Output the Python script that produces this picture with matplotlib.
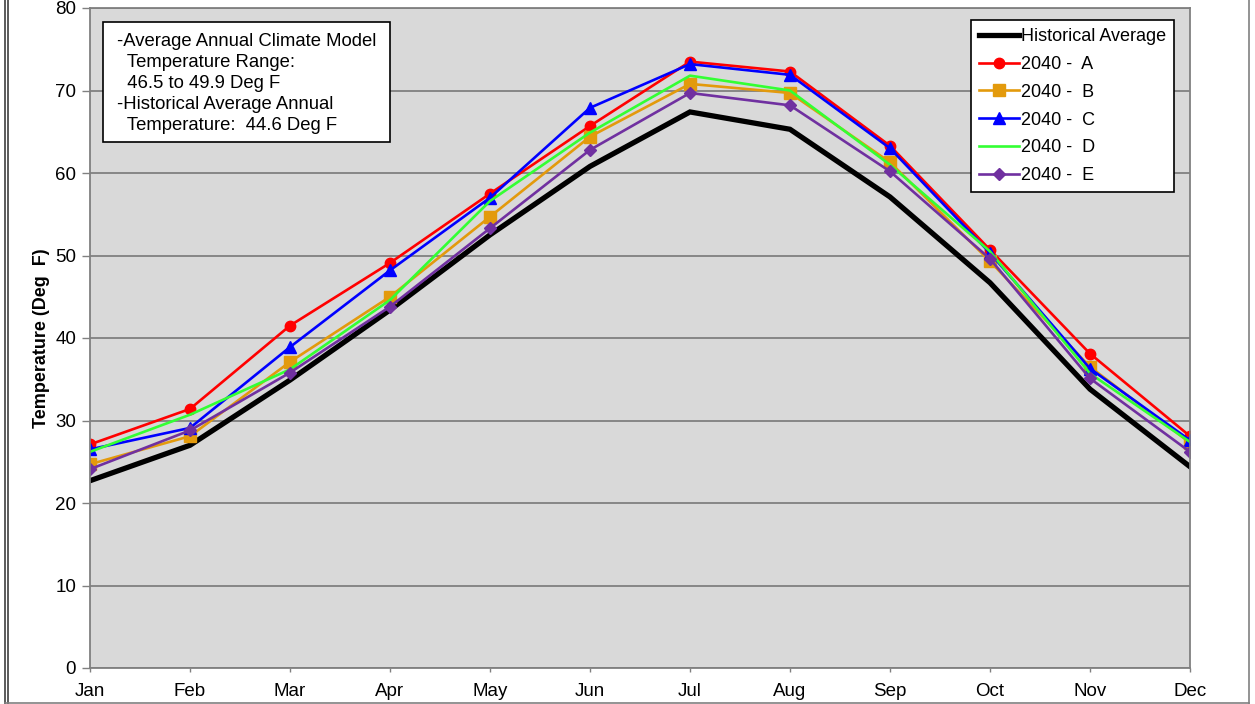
import matplotlib
matplotlib.use('Agg')
import matplotlib.pyplot as plt
from matplotlib.lines import Line2D
from matplotlib.patches import Rectangle

plt.rcParams['font.family'] = ['Liberation Sans', 'DejaVu Sans']

# monthly mean temperatures (deg F)
months = ['Jan', 'Feb', 'Mar', 'Apr', 'May', 'Jun', 'Jul', 'Aug', 'Sep', 'Oct', 'Nov', 'Dec']
historical = [22.7, 27.0, 34.9, 43.4, 52.5, 60.8, 67.4, 65.3, 57.1, 46.7, 33.8, 24.4]
a_2040 = [27.1, 31.4, 41.5, 49.1, 57.5, 65.7, 73.5, 72.3, 63.3, 50.7, 38.1, 28.1]
b_2040 = [24.7, 28.1, 37.1, 45.0, 54.7, 64.4, 70.8, 69.7, 61.3, 49.3, 36.5, 27.3]
c_2040 = [26.5, 29.1, 38.9, 48.2, 57.0, 67.9, 73.2, 71.9, 63.0, 50.3, 36.3, 27.6]
d_2040 = [26.2, 30.7, 36.2, 44.6, 56.6, 64.9, 71.8, 70.0, 61.0, 50.5, 35.7, 27.4]
e_2040 = [24.1, 28.8, 35.8, 43.8, 53.3, 62.8, 69.7, 68.2, 60.2, 49.6, 35.1, 26.2]

x = list(range(len(months)))

fig = plt.figure(figsize=(12.55, 7.04), dpi=100)
ax = fig.add_axes([90 / 1255, 1 - 668 / 704, 1100 / 1255, 660 / 704])
ax.set_facecolor('#d9d9d9')

ax.plot(x, historical, color='black', lw=3.8, label='Historical Average', solid_joinstyle='miter')
ax.plot(x, a_2040, color='#ff0000', lw=1.9, marker='o', ms=7.5, label='2040 -  A')
ax.plot(x, b_2040, color='#e39a0c', lw=1.9, marker='s', ms=8, label='2040 -  B')
ax.plot(x, c_2040, color='#0000ff', lw=1.9, marker='^', ms=8.5, label='2040 -  C')
ax.plot(x, d_2040, color='#33ff33', lw=1.9, label='2040 -  D')
ax.plot(x, e_2040, color='#7030a0', lw=1.9, marker='D', ms=6, label='2040 -  E')

ax.set_xlim(0, 11)
ax.set_ylim(0, 80)
ax.set_xticks(x)
ax.set_xticklabels(months)
ax.set_yticks(range(0, 81, 10))
ax.tick_params(axis='y', length=6, width=1, color='#808080', labelsize=13.5, pad=4)
ax.tick_params(axis='x', length=3, width=1, color='#808080', labelsize=13.5, pad=8)
ax.yaxis.grid(True, color='#808080', lw=1.3)
ax.set_axisbelow(True)
for s in ax.spines.values():
    s.set_color('#808080')
    s.set_linewidth(1.3)

ax.set_ylabel('Temperature (Deg  F)', fontsize=13, fontweight='bold', labelpad=4)

leg = ax.legend(loc='upper left', bbox_to_anchor=(0.801, 0.982), fontsize=13,
                frameon=True, fancybox=False, framealpha=1, edgecolor='black',
                handlelength=2.2, handletextpad=0.1, labelspacing=0.6,
                borderpad=0.45, borderaxespad=0)
leg.get_frame().set_linewidth(1.2)

# note box
ax.add_patch(Rectangle((0.0118, 0.797), 0.261, 0.182, transform=ax.transAxes,
                       facecolor='white', edgecolor='black', lw=1.2, zorder=5))
note = ('-Average Annual Climate Model\n'
        '  Temperature Range:\n'
        '  46.5 to 49.9 Deg F\n'
        '-Historical Average Annual\n'
        '  Temperature:  44.6 Deg F')
ax.text(0.0245, 0.962, note, transform=ax.transAxes, fontsize=13.3, va='top',
        ha='left', linespacing=1.3, zorder=6)

# outer chart frame
fig.add_artist(Line2D([5 / 1255, 5 / 1255], [0, 1], color='#404040', lw=1.2))
fig.add_artist(Line2D([8 / 1255, 8 / 1255], [0, 1], color='#404040', lw=1.2))
fig.add_artist(Line2D([1249 / 1255, 1249 / 1255], [0, 1], color='#808080', lw=1.2))
fig.add_artist(Line2D([5 / 1255, 1249 / 1255], [1.5 / 704, 1.5 / 704], color='#808080', lw=1.2))

fig.savefig('out.png', dpi=100)
